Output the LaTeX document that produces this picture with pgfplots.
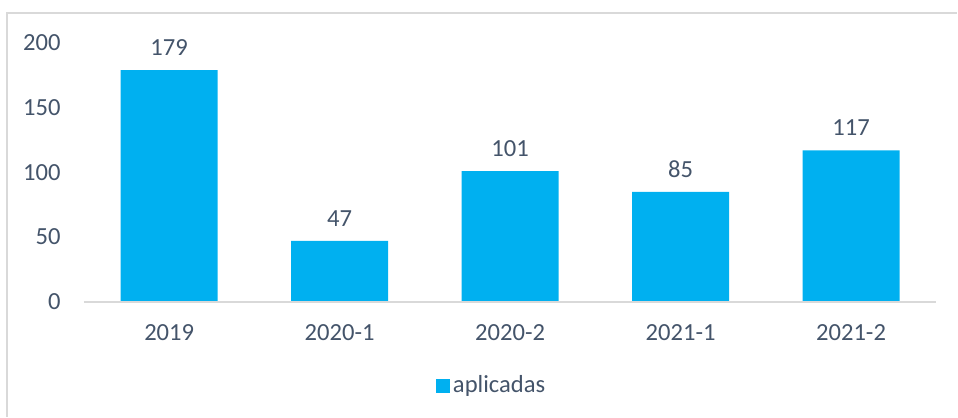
\documentclass[border=0pt]{standalone}
\usepackage{fontspec}
\setmainfont{Carlito}
\usepackage{pgfplots}
\pgfplotsset{compat=1.18}
\definecolor{barblue}{HTML}{00B0F0}
\definecolor{txt}{HTML}{44546A}
\definecolor{framegray}{HTML}{D9D9D9}
\newcommand{\chartfont}{\fontsize{12.3}{14.5}\selectfont}
\begin{document}
\begin{tikzpicture}[x=1pt,y=1pt,font=\chartfont]
% page area and chart frame
\path (-42,-57.5) rectangle (437,151);
\draw[framegray, line width=0.75pt] (-38.5,-57.5) -- (-38.5,144.5) -- (437,144.5);
\begin{axis}[at={(0,0)}, anchor=south west,
    scale only axis, width=426.5pt, height=129.5pt,
    ybar, bar width=48.5pt,
    xmin=-0.5, xmax=4.5, ymin=0, ymax=200,
    xtick={0,...,4}, xticklabels={2019,2020-1,2020-2,2021-1,2021-2},
    ytick={0,50,100,150,200},
    axis x line*=bottom, axis y line*=left,
    x axis line style={framegray, line width=0.75pt, -},
    y axis line style={draw=none},
    major tick length=0pt,
    axis on top,
    clip=false,
    /pgf/number format/assume math mode=true,
    tick label style={font=\chartfont, text=txt},
    x tick label style={anchor=center, yshift=-15.25pt},
    y tick label style={anchor=east, inner sep=0pt, xshift=-11.5pt},
    nodes near coords,
    nodes near coords style={anchor=center, yshift=11.25pt, text=txt,
        font=\chartfont,
        /pgf/number format/assume math mode=true},
    legend image code/.code={\fill[#1] (0pt,-3.5pt) rectangle (7pt,3.5pt);},
    legend style={at={(0.4789,0)}, anchor=center, yshift=-42pt,
        draw=none, fill=none, text=txt, font=\chartfont,
        inner sep=0pt, nodes={inner sep=1.5pt}},
]
\addplot[fill=barblue, draw=none] coordinates {(0,179) (1,47) (2,101) (3,85) (4,117)};
\addlegendentry{aplicadas}
\end{axis}
\end{tikzpicture}
\end{document}
